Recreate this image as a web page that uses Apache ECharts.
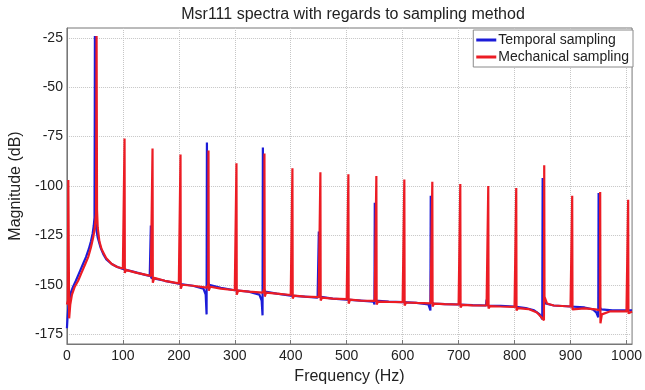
<!DOCTYPE html>
<html>
<head>
<meta charset="utf-8">
<script src="https://cdn.jsdelivr.net/npm/echarts@6/dist/echarts.min.js"></script>
<style>
  html, body { margin: 0; padding: 0; background: #fff; }
  #chart { width: 645px; height: 390px; }
</style>
</head>
<body>
<div id="chart"></div>
<script>
// frequency (Hz) and magnitude (dB) pairs per curve
const temporalFreq = [
  0, 1, 2, 4, 7, 11, 16, 22, 28, 34, 39, 43, 46, 48, 49.3, 49.8, 50, 50.4, 50.8, 52, 55, 60, 65, 70, 80, 90,
  100, 120, 140, 148, 149.5, 150, 150.6, 153, 175, 200, 225, 244, 248, 249.6, 250.2, 251, 254, 275,
  300, 325, 344, 348, 349.6, 350.2, 351, 354, 375, 400, 425, 448, 449.6, 450.2, 451, 475,
  500, 525, 548, 549.6, 550.2, 551, 575, 600, 625, 646, 649.6, 650.2, 651, 655, 675,
  700, 725, 749, 750, 751, 775, 800, 820, 835, 845, 849.5, 850.2, 851, 855, 870,
  900, 925, 940, 946, 949.6, 950.2, 951, 955, 975, 1000, 1010
];
const temporalMag = [
  -172, -167, -163, -158, -154, -151, -148, -144, -140, -136, -132, -128, -124, -120, -116, -60, -24, -70, -116, -121, -126, -131, -134.5, -137, -139.5, -141,
  -142, -143.5, -145, -145.5, -146, -120, -146.5, -146.5, -148, -149.5, -150.5, -152, -155, -165, -78, -148, -150, -151.5,
  -152.8, -153.5, -155, -158, -165.5, -80.5, -151, -153.5, -154.5, -155.5, -156, -156.5, -157.5, -123, -156, -157,
  -157.5, -158, -158.5, -160, -108.5, -158, -158.5, -158.8, -159.2, -160, -163, -105, -158.5, -159.5, -159.8,
  -160, -160.3, -160.5, -157.5, -160.5, -160.7, -161, -161.8, -163, -165, -167.5, -96, -157, -159.5, -160.5,
  -161, -161.5, -162.5, -164, -166.5, -103.5, -161, -162.5, -163, -163, -163
];
const mechanicalFreq = [
  0, 1.5, 2.5, 3.2, 4, 6, 9, 14, 20, 26, 32, 38, 43, 47, 50, 52, 52.6, 53, 53.4, 53.8, 55, 58, 62, 70, 80, 90,
  100, 102.5, 103, 103.5, 105, 125, 150, 152.5, 153, 153.5, 156, 175,
  200, 202.5, 203, 203.5, 206, 225, 250, 252.5, 253, 253.5, 256, 275,
  300, 302.5, 303, 303.5, 306, 325, 350, 352.5, 353, 353.5, 356, 375,
  400, 402.5, 403, 403.5, 406, 425, 450, 452.5, 453, 453.5, 456, 475,
  500, 502.5, 503, 503.5, 506, 525, 550, 552.5, 553, 553.5, 556, 575,
  600, 602.5, 603, 603.5, 606, 625, 650, 652.5, 653, 653.5, 656, 675,
  700, 702.5, 703, 703.5, 706, 725, 750, 752.5, 753, 753.5, 756, 775,
  800, 802.5, 803, 803.5, 806, 825, 840, 848, 852.5, 853, 853.5, 858, 870,
  900, 902.5, 903, 903.5, 906, 925, 945, 952.5, 953, 953.5, 956, 970,
  1000, 1002.5, 1003, 1003.5, 1006, 1010
];
const mechanicalMag = [
  -160, -158, -97, -130, -167, -160, -155, -151, -148, -144, -140, -136, -131, -126, -121, -114, -65, -24, -66, -112, -121, -128, -132, -136.5, -139.5, -141,
  -141.8, -142, -76, -144, -142.5, -144, -145.5, -146, -81, -149, -146.5, -148,
  -149.3, -149.5, -84, -152, -150, -150.5, -151.5, -150, -82, -153, -151, -152,
  -152.8, -153, -88.5, -155, -153, -153.5, -154, -152, -83.5, -156, -154, -154.5,
  -155.2, -155.3, -91, -157, -155.5, -156, -156.3, -156.5, -93, -158, -156.5, -157,
  -157.3, -157.4, -94, -159.5, -157.5, -158, -158.2, -158.3, -95, -160, -158.5, -158.7,
  -158.8, -158.9, -96.7, -160.5, -159, -159.2, -159.4, -159.4, -97.8, -161, -159.6, -159.8,
  -160, -160, -99, -161.5, -160.2, -160.4, -160.5, -160.5, -100, -162, -160.8, -161,
  -161.2, -161.3, -101, -163, -161.8, -162.3, -164, -166.5, -168, -89.5, -156, -159.5, -160.5,
  -161, -161, -105, -162.5, -161.5, -162, -162.5, -163, -103, -169.5, -165, -163.5,
  -163.5, -163.5, -107, -164.5, -163.5, -163.5
];
const seriesNames = ['Temporal sampling', 'Mechanical sampling'];
const xTicks = [0, 100, 200, 300, 400, 500, 600, 700, 800, 900, 1000];
const yTicks = [-175, -150, -125, -100, -75, -50, -25];

const font = "'Liberation Sans', Arial, sans-serif";
const gridColor = '#c6c6c6';

function pairs(xs, ys) {
  return xs.map((x, i) => [x, ys[i]]);
}

const chart = echarts.init(document.getElementById('chart'), null, { renderer: 'canvas' });

const option = {
  animation: false,
  backgroundColor: '#ffffff',
  title: {
    text: 'Msr111 spectra with regards to sampling method',
    left: 348,
    top: 2,
    textAlign: 'center',
    textStyle: { fontFamily: font, fontSize: 16, fontWeight: 'normal', color: '#222' }
  },
  legend: {
    data: seriesNames,
    orient: 'vertical',
    right: 12,
    top: 30,
    backgroundColor: '#fff',
    borderColor: '#8a8a8a',
    borderWidth: 1,
    padding: [3, 4, 3, 3],
    itemGap: 3,
    itemWidth: 20,
    itemHeight: 3,
    icon: 'rect',
    textStyle: { fontFamily: font, fontSize: 14, color: '#222', padding: [0, 0, 0, -3] }
  },
  grid: {
    left: 62,
    right: 10,
    top: 28,
    bottom: 43,
    show: true,
    borderColor: '#777',
    borderWidth: 1
  },
  xAxis: {
    type: 'value',
    min: 0,
    max: 1010,
    interval: 100,
    name: 'Frequency (Hz)',
    nameLocation: 'middle',
    nameGap: 25,
    nameTextStyle: { fontFamily: font, fontSize: 16, color: '#222' },
    axisLine: { lineStyle: { color: '#777' } },
    axisTick: { inside: true, length: 4, lineStyle: { color: '#777' } },
    axisLabel: {
      fontFamily: font, fontSize: 14, color: '#222', margin: 5,
      showMaxLabel: false,
      formatter: v => (xTicks.includes(v) ? String(v) : '')
    },
    splitLine: { show: true, showMaxLine: false, lineStyle: { color: gridColor, type: 'dotted', width: 1 } }
  },
  yAxis: {
    type: 'value',
    min: -180,
    max: -20,
    interval: 5,
    name: 'Magnitude (dB)',
    nameLocation: 'middle',
    nameGap: 33,
    nameTextStyle: { fontFamily: font, fontSize: 16, color: '#222' },
    axisLine: { show: true, lineStyle: { color: '#777' } },
    axisTick: { show: false },
    axisLabel: {
      fontFamily: font, fontSize: 14, color: '#222', margin: 4,
      formatter: v => (yTicks.includes(v) ? String(v) : '')
    },
    splitLine: {
      show: true,
      showMinLine: true,
      showMaxLine: false,
      lineStyle: {
        color: ['rgba(0,0,0,0)', gridColor, 'rgba(0,0,0,0)', 'rgba(0,0,0,0)', 'rgba(0,0,0,0)'],
        type: 'dotted',
        width: 1
      }
    }
  },
  series: [
    {
      name: seriesNames[0],
      type: 'line',
      data: pairs(temporalFreq, temporalMag),
      symbol: 'none',
      lineStyle: { color: '#1c1cd8', width: 2.2 },
      itemStyle: { color: '#1c1cd8' }
    },
    {
      name: seriesNames[1],
      type: 'line',
      data: pairs(mechanicalFreq, mechanicalMag),
      symbol: 'none',
      lineStyle: { color: '#ec1c24', width: 2.2 },
      itemStyle: { color: '#ec1c24' }
    }
  ]
};

chart.setOption(option);
</script>
</body>
</html>
